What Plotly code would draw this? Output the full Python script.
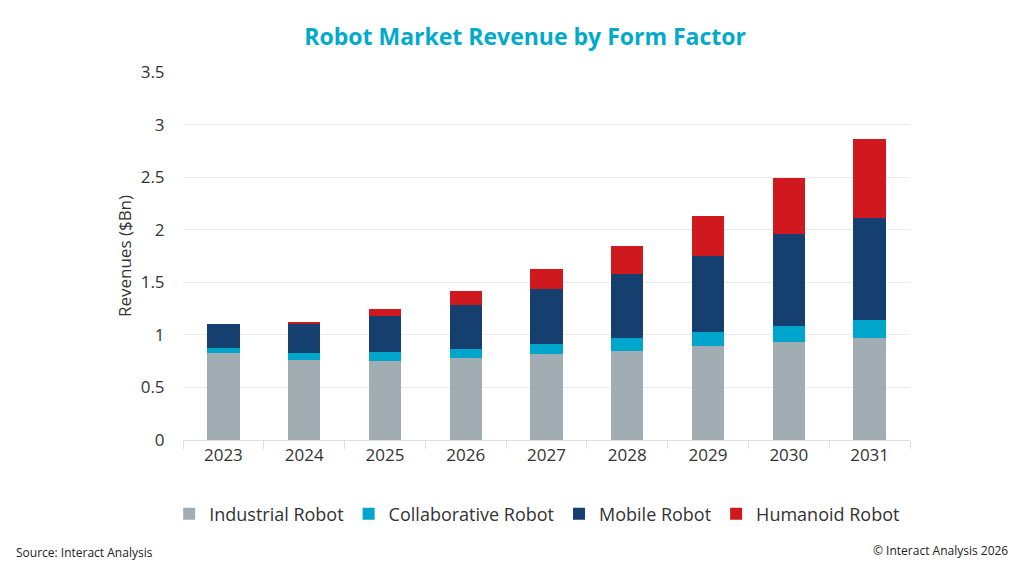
import plotly.graph_objects as go

years = ["2023", "2024", "2025", "2026", "2027", "2028", "2029", "2030", "2031"]
industrial = [0.825, 0.76, 0.755, 0.783, 0.815, 0.85, 0.891, 0.93, 0.967]
collaborative = [0.05, 0.07, 0.08, 0.083, 0.10, 0.117, 0.134, 0.155, 0.173]
mobile = [0.225, 0.28, 0.345, 0.419, 0.518, 0.613, 0.729, 0.872, 0.975]
humanoid = [0.0, 0.01, 0.07, 0.133, 0.193, 0.266, 0.377, 0.536, 0.745]

series = [
    ("Industrial Robot", industrial, "#A2ACB3"),
    ("Collaborative Robot", collaborative, "#00A5CB"),
    ("Mobile Robot", mobile, "#143F6F"),
    ("Humanoid Robot", humanoid, "#D0191F"),
]

font_family = "Open Sans, Noto Sans, sans-serif"

fig = go.Figure()
for name, values, colour in series:
    fig.add_trace(go.Bar(
        x=years, y=values, name=name,
        marker=dict(color=colour, line=dict(width=0)),
    ))

# page body adds an 8px margin, so the figure is a bit smaller than the window
fig.update_layout(
    width=1016, height=568,
    barmode="stack", bargap=0.6,
    paper_bgcolor="white", plot_bgcolor="white",
    margin=dict(l=175, r=114, t=64, b=136),
    font=dict(family=font_family, size=16, color="#333333"),
    title=dict(
        text="<b>Robot Market Revenue by Form Factor</b>",
        x=0.509, xanchor="center", y=0.949, yanchor="middle",
        font=dict(size=23, color="#00AACD", family=font_family),
    ),
    # anchored left of the plot area (x < 0) so plotly lets it run wider
    # than the plot without wrapping onto a second row
    legend=dict(
        orientation="h", x=-0.019, xanchor="left", y=-0.201, yanchor="middle",
        traceorder="normal", font=dict(size=18, color="#333333"),
        itemwidth=30,
    ),
    showlegend=True,
)

fig.update_xaxes(
    type="category", showgrid=False,
    showline=True, linecolor="#E0E0E0", linewidth=1,
    ticks="outside", tickson="boundaries", ticklen=8, tickcolor="#E0E0E0",
    tickfont=dict(size=17, color="#333333"),
)
fig.update_yaxes(
    range=[0, 3.5], dtick=0.5,
    showgrid=True, gridcolor="#EBEBEB", gridwidth=1,
    zeroline=False, showline=False,
    ticks="outside", ticklen=14, tickcolor="rgba(0,0,0,0)",
    tickfont=dict(size=17, color="#333333"),
    title=dict(text="Revenues ($Bn)", font=dict(size=17, color="#333333"), standoff=4),
)

fig.add_annotation(
    text="Source: Interact Analysis", xref="paper", yref="paper",
    x=(6 - 175) / 727, xanchor="left", y=-0.307, yanchor="middle",
    showarrow=False, font=dict(size=12, color="#222222"),
)
fig.add_annotation(
    text="© Interact Analysis 2026", xref="paper", yref="paper",
    x=(1002 - 175) / 727, xanchor="right", y=-0.3016, yanchor="middle",
    showarrow=False, font=dict(size=12, color="#222222"),
)

fig.write_html("out.html")
